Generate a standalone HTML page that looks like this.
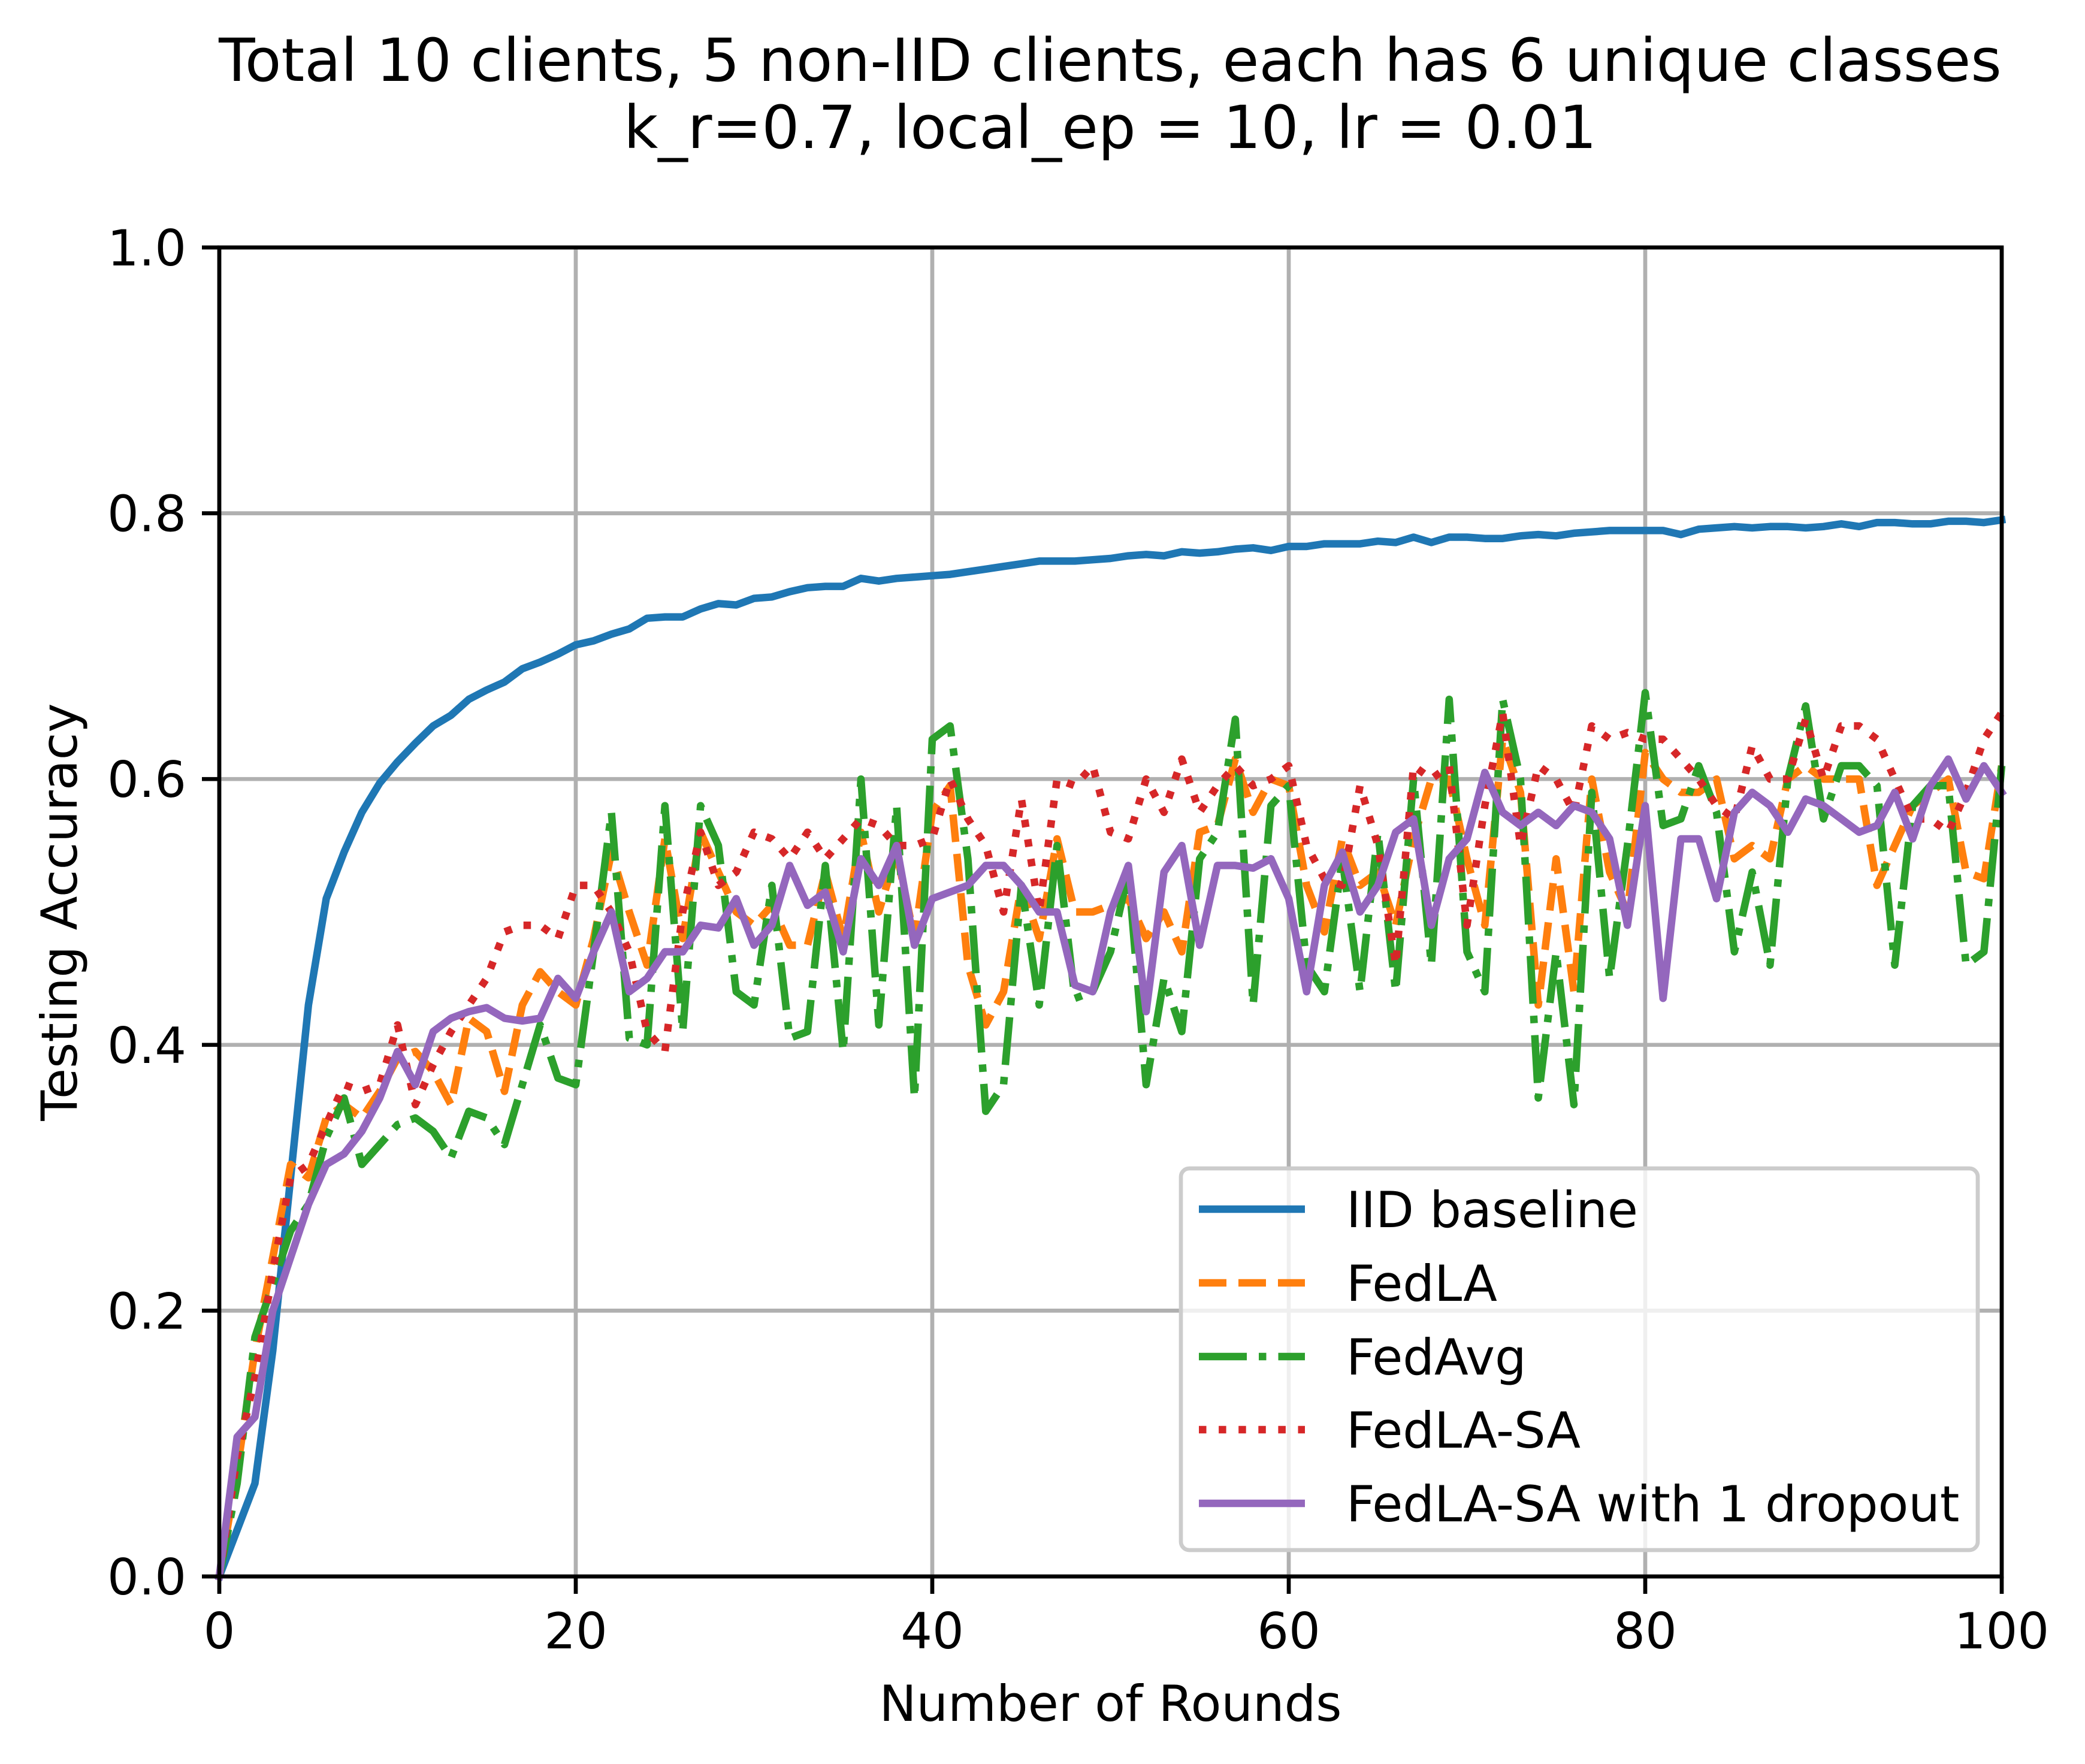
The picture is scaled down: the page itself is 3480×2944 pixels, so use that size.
<!DOCTYPE html>
<html><head><meta charset="utf-8"><style>
html,body{margin:0;padding:0;background:#fff;}
svg{display:block;font-family:"DejaVu Sans","Liberation Sans",sans-serif;}
</style></head><body>
<svg id="chart" width="3480" height="2944" viewBox="0 0 3480 2944" xmlns="http://www.w3.org/2000/svg">
<rect width="3480" height="2944" fill="#fff"/>
<text x="1853" y="135" font-size="99" text-anchor="middle">Total 10 clients, 5 non-IID clients, each has 6 unique classes</text>
<text x="1853" y="247" font-size="99" text-anchor="middle">k_r=0.7, local_ep = 10, lr = 0.01</text>
<g id="grid"></g>
<g id="series"></g>
<g id="axes"></g>
<g id="legend"></g>
</svg>
<script>
const xTicks = [0, 20, 40, 60, 80, 100];
const yTicks = [0.0, 0.2, 0.4, 0.6, 0.8, 1.0];
const yTickLabels = ["0.0", "0.2", "0.4", "0.6", "0.8", "1.0"];
const seriesNames = ["IID baseline", "FedLA", "FedAvg", "FedLA-SA", "FedLA-SA with 1 dropout"];
const iid = [0,0.035,0.07,0.17,0.3,0.43,0.51,0.545,0.575,0.597,0.613,0.627,0.64,0.648,0.66,0.667,0.673,0.683,0.688,0.694,0.701,0.704,0.709,0.713,0.721,0.722,0.722,0.728,0.732,0.731,0.736,0.737,0.741,0.744,0.745,0.745,0.751,0.749,0.751,0.752,0.753,0.754,0.756,0.758,0.760,0.762,0.764,0.764,0.764,0.765,0.766,0.768,0.769,0.768,0.771,0.770,0.771,0.773,0.774,0.772,0.775,0.775,0.777,0.777,0.777,0.779,0.778,0.782,0.778,0.782,0.782,0.781,0.781,0.783,0.784,0.783,0.785,0.786,0.787,0.787,0.787,0.787,0.784,0.788,0.789,0.790,0.789,0.790,0.790,0.789,0.790,0.792,0.790,0.793,0.793,0.792,0.792,0.794,0.794,0.793,0.795];
const fedla = [0,0.08,0.17,0.24,0.31,0.3,0.345,0.355,0.345,0.365,0.39,0.395,0.38,0.355,0.42,0.41,0.365,0.43,0.455,0.44,0.43,0.48,0.545,0.5,0.46,0.555,0.48,0.56,0.53,0.5,0.49,0.505,0.475,0.475,0.53,0.48,0.56,0.5,0.545,0.48,0.575,0.595,0.46,0.415,0.44,0.52,0.48,0.555,0.5,0.5,0.505,0.51,0.48,0.5,0.47,0.56,0.565,0.615,0.575,0.6,0.595,0.52,0.485,0.555,0.52,0.53,0.49,0.555,0.6,0.6,0.54,0.49,0.63,0.59,0.43,0.54,0.44,0.6,0.53,0.5,0.62,0.6,0.59,0.59,0.6,0.54,0.55,0.54,0.6,0.61,0.6,0.6,0.6,0.52,0.55,0.58,0.59,0.6,0.53,0.525,0.61];
const fedavg = [0,0.07,0.18,0.22,0.26,0.28,0.33,0.36,0.31,0.325,0.34,0.345,0.335,0.315,0.35,0.345,0.325,0.37,0.415,0.375,0.37,0.47,0.575,0.405,0.4,0.58,0.41,0.58,0.55,0.44,0.43,0.52,0.405,0.41,0.535,0.395,0.6,0.415,0.58,0.36,0.63,0.64,0.54,0.35,0.37,0.52,0.43,0.55,0.435,0.44,0.47,0.53,0.37,0.45,0.41,0.54,0.56,0.645,0.43,0.58,0.595,0.46,0.44,0.54,0.44,0.56,0.44,0.6,0.46,0.66,0.47,0.44,0.66,0.6,0.36,0.47,0.355,0.59,0.45,0.55,0.665,0.565,0.57,0.61,0.575,0.47,0.53,0.46,0.6,0.655,0.57,0.61,0.61,0.595,0.46,0.58,0.595,0.595,0.46,0.47,0.61];
const fedlasa = [0,0.09,0.15,0.23,0.3,0.31,0.34,0.37,0.365,0.37,0.415,0.355,0.385,0.41,0.43,0.45,0.485,0.49,0.49,0.48,0.52,0.52,0.5,0.47,0.41,0.395,0.5,0.56,0.52,0.53,0.56,0.555,0.54,0.56,0.54,0.555,0.57,0.565,0.55,0.55,0.555,0.6,0.57,0.55,0.5,0.585,0.5,0.6,0.595,0.61,0.56,0.555,0.6,0.575,0.615,0.575,0.595,0.61,0.595,0.6,0.61,0.55,0.525,0.52,0.595,0.55,0.46,0.61,0.6,0.61,0.49,0.58,0.65,0.55,0.61,0.6,0.575,0.64,0.63,0.635,0.63,0.63,0.615,0.6,0.58,0.57,0.625,0.6,0.6,0.645,0.6,0.64,0.64,0.63,0.6,0.57,0.57,0.56,0.59,0.63,0.65];
const dropout = [0,0.105,0.12,0.2,0.24,0.28,0.31,0.318,0.335,0.36,0.395,0.37,0.41,0.42,0.425,0.428,0.42,0.418,0.42,0.45,0.435,0.47,0.5,0.44,0.45,0.47,0.47,0.49,0.488,0.51,0.475,0.49,0.535,0.505,0.515,0.47,0.54,0.52,0.55,0.475,0.51,0.515,0.52,0.535,0.535,0.52,0.5,0.5,0.445,0.44,0.5,0.535,0.425,0.53,0.55,0.475,0.535,0.535,0.533,0.54,0.51,0.44,0.52,0.545,0.5,0.52,0.56,0.57,0.49,0.54,0.555,0.605,0.575,0.565,0.575,0.565,0.58,0.575,0.555,0.49,0.58,0.435,0.555,0.555,0.51,0.575,0.59,0.58,0.56,0.585,0.58,0.57,0.56,0.565,0.59,0.555,0.595,0.615,0.585,0.61,0.59];

const NS = "http://www.w3.org/2000/svg";
const L = 366, R = 3341, T = 413, B = 2631;
function xs(v){ return L + (v - 0) / 100 * (R - L); }
function ys(v){ return B - (v - 0) / 1.0 * (B - T); }
function mk(tag, attrs, parent){ const e = document.createElementNS(NS, tag); for (const k in attrs) e.setAttribute(k, attrs[k]); parent.appendChild(e); return e; }

const grid = document.getElementById('grid');
const axes = document.getElementById('axes');
xTicks.forEach((t) => {
  const g = mk('line', {x1: xs(t), x2: xs(t), y1: T, y2: B, stroke: '#b0b0b0', 'stroke-width': 6.7}, grid);
  
  
  const tk = mk('line', {x1: xs(t), x2: xs(t), y1: B, y2: B + 29, stroke: '#000', 'stroke-width': 6.7}, axes);
  
  
  const lb = mk('text', {x: xs(t), y: B + 120, 'font-size': 83, 'text-anchor': 'middle'}, axes);
  lb.textContent = String(t);
  
  
});
yTicks.forEach((t, i) => {
  const g = mk('line', {x1: L, x2: R, y1: ys(t), y2: ys(t), stroke: '#b0b0b0', 'stroke-width': 6.7}, grid);
  
  
  const tk = mk('line', {x1: L - 29, x2: L, y1: ys(t), y2: ys(t), stroke: '#000', 'stroke-width': 6.7}, axes);
  
  
  const lb = mk('text', {x: L - 55, y: ys(t) + 30, 'font-size': 83, 'text-anchor': 'end'}, axes);
  lb.textContent = yTickLabels[i];
  
  
});
const frame = mk('rect', {x: L, y: T, width: R - L, height: B - T, fill: 'none', stroke: '#000', 'stroke-width': 6.7}, axes);


const xl = mk('text', {x: (L + R) / 2, y: 2872, 'font-size': 83, 'text-anchor': 'middle'}, axes);
xl.textContent = 'Number of Rounds';


const yl = mk('text', {x: 0, y: 0, 'font-size': 83, 'text-anchor': 'middle', transform: 'translate(128,' + ((T + B) / 2) + ') rotate(-90)'}, axes);
yl.textContent = 'Testing Accuracy';



const styles = [
  {data: iid, color: '#1f77b4', dash: null, cap: 'square', key: 'iid-baseline-line'},
  {data: fedla, color: '#ff7f0e', dash: '46 20', cap: 'butt', key: 'fedla-line'},
  {data: fedavg, color: '#2ca02c', dash: '80 20 12.5 20', cap: 'butt', key: 'fedavg-line'},
  {data: fedlasa, color: '#d62728', dash: '12.5 20.6', cap: 'butt', key: 'fedla-sa-line'},
  {data: dropout, color: '#9467bd', dash: null, cap: 'square', key: 'fedla-sa-dropout-line'}
];
const sg = document.getElementById('series');
styles.forEach((s) => {
  const d = s.data.map((v, i) => (i ? 'L' : 'M') + xs(i).toFixed(1) + ',' + ys(v).toFixed(1)).join(' ');
  const p = mk('path', {d: d, fill: 'none', stroke: s.color, 'stroke-width': 12.5, 'stroke-linejoin': 'round', 'stroke-linecap': s.cap}, sg);
  if (s.dash) p.setAttribute('stroke-dasharray', s.dash);
  
  
});

const lg = document.getElementById('legend');
const box = mk('rect', {x: 1971, y: 1950, width: 1330, height: 637, rx: 14, fill: '#fff', 'fill-opacity': 0.8, stroke: '#cccccc', 'stroke-width': 6.7}, lg);


const ly = [2018, 2141, 2264, 2386, 2509];
styles.forEach((s, i) => {
  const ln = mk('line', {x1: 2001, x2: 2178, y1: ly[i], y2: ly[i], stroke: s.color, 'stroke-width': 12.5, 'stroke-linecap': 'butt'}, lg);
  if (s.dash) ln.setAttribute('stroke-dasharray', s.dash);
  
  
  const tx = mk('text', {x: 2247, y: ly[i] + 30, 'font-size': 83}, lg);
  tx.textContent = seriesNames[i];
  
  
});
</script>
</body></html>
